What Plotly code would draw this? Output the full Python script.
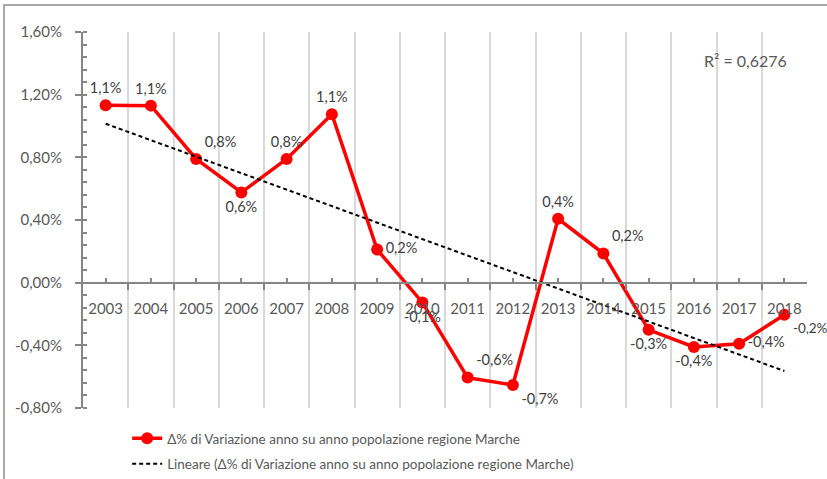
import numpy as np
import plotly.graph_objects as go

years = ["2003", "2004", "2005", "2006", "2007", "2008", "2009", "2010",
         "2011", "2012", "2013", "2014", "2015", "2016", "2017", "2018"]
variation = [1.133, 1.13, 0.79, 0.576, 0.79, 1.075, 0.211, -0.126,
             -0.606, -0.653, 0.408, 0.186, -0.301, -0.41, -0.39, -0.205]
label_positions = ["top center", "top center", "top right", "bottom center",
                   "top center", "top center", "middle right", "bottom center",
                   "top right", "bottom right", "top center", "top right",
                   "bottom center", "bottom center", "middle right", "bottom right"]
label_sizes = [14.5] * 15 + [13.5]
y_ticks = [-0.8, -0.4, 0.0, 0.4, 0.8, 1.2, 1.6]
y_tick_labels = [f"{v:.2f}%".replace(".", ",") for v in y_ticks]
r2_text = "R² = 0,6276"
series_name = "Δ% di Variazione anno su anno popolazione regione Marche"
trend_name = "Lineare (Δ% di Variazione anno su anno popolazione regione Marche)"

FONT = "Lato"
GREY_TEXT = "#595959"
AXIS_GREY = "#868686"

x = np.arange(len(years))
slope, intercept = np.polyfit(x, variation, 1)
trend = slope * x + intercept

fig = go.Figure()
fig.add_trace(go.Scatter(
    x=x, y=variation, name=series_name, legendgroup="a",
    mode="lines+markers+text", cliponaxis=False,
    line=dict(color="#FF0000", width=3.5),
    marker=dict(color="#FF0000", size=12),
    texttemplate="%{y:.1f}%", textposition=label_positions,
    textfont=dict(family=FONT, size=label_sizes, color="#404040"),
))
fig.add_trace(go.Scatter(
    x=x, y=trend, name=trend_name, legendgroup="b",
    mode="lines",
    line=dict(color="#000000", width=2, dash="4px,3px"),
))

fig.update_layout(
    width=827, height=479,
    margin=dict(l=83, r=20, t=32, b=71, autoexpand=False),
    paper_bgcolor="white", plot_bgcolor="white",
    separators=",.",
    font=dict(family=FONT, size=15, color=GREY_TEXT),
    showlegend=True,
    legend=dict(x=0.061, y=-0.040, xanchor="left", yanchor="top",
                font=dict(family=FONT, size=13.5, color=GREY_TEXT),
                tracegroupgap=5, bgcolor="rgba(0,0,0,0)"),
    xaxis=dict(
        range=[-0.5, len(years) - 0.5], automargin=False,
        tickmode="array", tickvals=x, ticktext=years,
        ticks="inside", ticklen=4, tickcolor=AXIS_GREY, tickwidth=1.5,
        showgrid=False, zeroline=False,
        showline=True, linecolor=AXIS_GREY, linewidth=2,
        anchor="free", position=0.8 / 2.4,
        ticklabelstandoff=12,
        tickfont=dict(family=FONT, size=15, color=GREY_TEXT),
        minor=dict(tick0=-0.5, dtick=1, ticks="outside", ticklen=6,
                   tickcolor=AXIS_GREY, tickwidth=2,
                   showgrid=True, gridcolor="#d9d9d9", gridwidth=1.5),
    ),
    yaxis=dict(
        range=[-0.8, 1.6], automargin=False,
        tickmode="array", tickvals=y_ticks, ticktext=y_tick_labels,
        ticks="outside", ticklen=6, tickcolor=AXIS_GREY, tickwidth=1.5,
        showgrid=False, zeroline=False,
        showline=True, linecolor=AXIS_GREY, linewidth=2,
        ticklabelstandoff=10,
        tickfont=dict(family=FONT, size=15, color=GREY_TEXT),
        minor=dict(tick0=-0.8, dtick=0.08, ticks="inside", ticklen=4,
                   tickcolor=AXIS_GREY, tickwidth=1.5, showgrid=False),
    ),
    annotations=[dict(
        text=r2_text, xref="paper", yref="paper",
        x=(745 - 83) / 724, y=(408 - 60) / 376,
        xanchor="center", yanchor="middle",
        showarrow=False, font=dict(family=FONT, size=16, color=GREY_TEXT),
    )],
    shapes=[dict(
        type="rect", xref="paper", yref="paper",
        x0=(4 - 83) / 724, x1=(840 - 83) / 724,
        y0=(408 - 490) / 376, y1=(408 - 5) / 376,
        line=dict(color="#8c8c8c", width=1.5), fillcolor="rgba(0,0,0,0)",
        layer="below",
    )],
)

fig.write_html(
    "out.html",
    config={"displayModeBar": False},
    post_script="document.body.style.margin='0';document.body.style.overflow='hidden';",
)
